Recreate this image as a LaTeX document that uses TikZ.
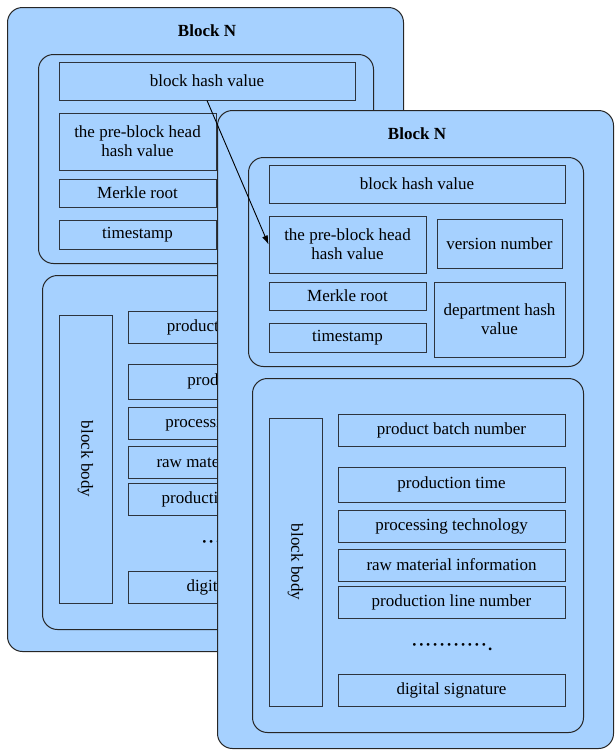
\documentclass[tikz,border=0pt]{standalone}
\usepackage{fontspec}
\setmainfont{Liberation Serif}[Ligatures=TeX]
\newfontfamily\labelfont{Liberation Serif}
\usetikzlibrary{arrows.meta}

\definecolor{blockfill}{RGB}{166,209,255}
\definecolor{edgecol}{RGB}{45,52,62}

% one field box given by its corners (x1,y1)-(x2,y2)
\newcommand\fieldbox[6]{%
  \node[field, minimum width={#4-#2}, minimum height={#5-#3}]
    (-#1) at ({(#2+#4)/2},{(#3+#5)/2}) {#6};}
\def\md{·\kern1.3pt}

\tikzset{
  x=1pt, y=-1pt,
  txt/.style={font=\labelfont\fontsize{17}{19}\selectfont},
  field/.style={draw=edgecol, line width=0.9pt, fill=blockfill, inner sep=0pt,
    align=center, txt},
  frame/.style={draw=black!85, line width=1pt, fill=blockfill,
    rounded corners=15pt, inner sep=0pt, anchor=north west},
  heading/.style={font=\labelfont\fontsize{17}{19}\selectfont\bfseries},
  link/.style={-{Latex[length=9pt,width=6pt]}, line width=0.9pt, draw=black},
  blockN/.pic={
    \node[frame, minimum width=396, minimum height=#1] (-frame) at (0,0) {};
    \node[heading] (-title) at (200,24) {Block N};
    % block header
    \node[frame, minimum width=335, minimum height=209] (-head) at (31,47) {};
    \fieldbox{hash}{52}{55}{348}{93}{block hash value}
    \fieldbox{pre}{52}{106}{209}{163}{the pre-block head\\hash value}
    \fieldbox{version}{220}{109}{345}{158}{version number}
    \fieldbox{merkle}{52}{172}{209}{200}{Merkle root}
    \fieldbox{stamp}{52}{213}{209}{242}{timestamp}
    \fieldbox{dept}{217}{172}{348}{247}{department hash\\value}
    % block body
    \node[frame, minimum width=331, minimum height=354] (-body) at (35,268) {};
    \node[field, rotate=-90, minimum width=288, minimum height=53]
      (-bodylabel) at (78.5,452) {block body};
    \fieldbox{batch}{121}{304}{348}{336}{product batch number}
    \fieldbox{ptime}{121}{357}{348}{392}{production time}
    \fieldbox{tech}{121}{400}{348}{432}{processing technology}
    \fieldbox{raw}{121}{439}{348}{471}{raw material information}
    \fieldbox{pline}{121}{476}{348}{508}{production line number}
    \node[txt, anchor=base, inner sep=0pt] (-ellipsis) at (235,540)
      {\bfseries\md\md\md\md\md\md\md\md\md\md\md.};
    \fieldbox{sign}{121}{564}{348}{596}{digital signature}
  }
}

\begin{document}
\begin{tikzpicture}
  \useasboundingbox (0,0) rectangle (614,750);
  \pic (back) at (7,7) {blockN=644};
  \pic (front) at (217,110) {blockN=638};
  \draw[link] (back-hash.south) -- (front-pre.west);
\end{tikzpicture}
\end{document}
